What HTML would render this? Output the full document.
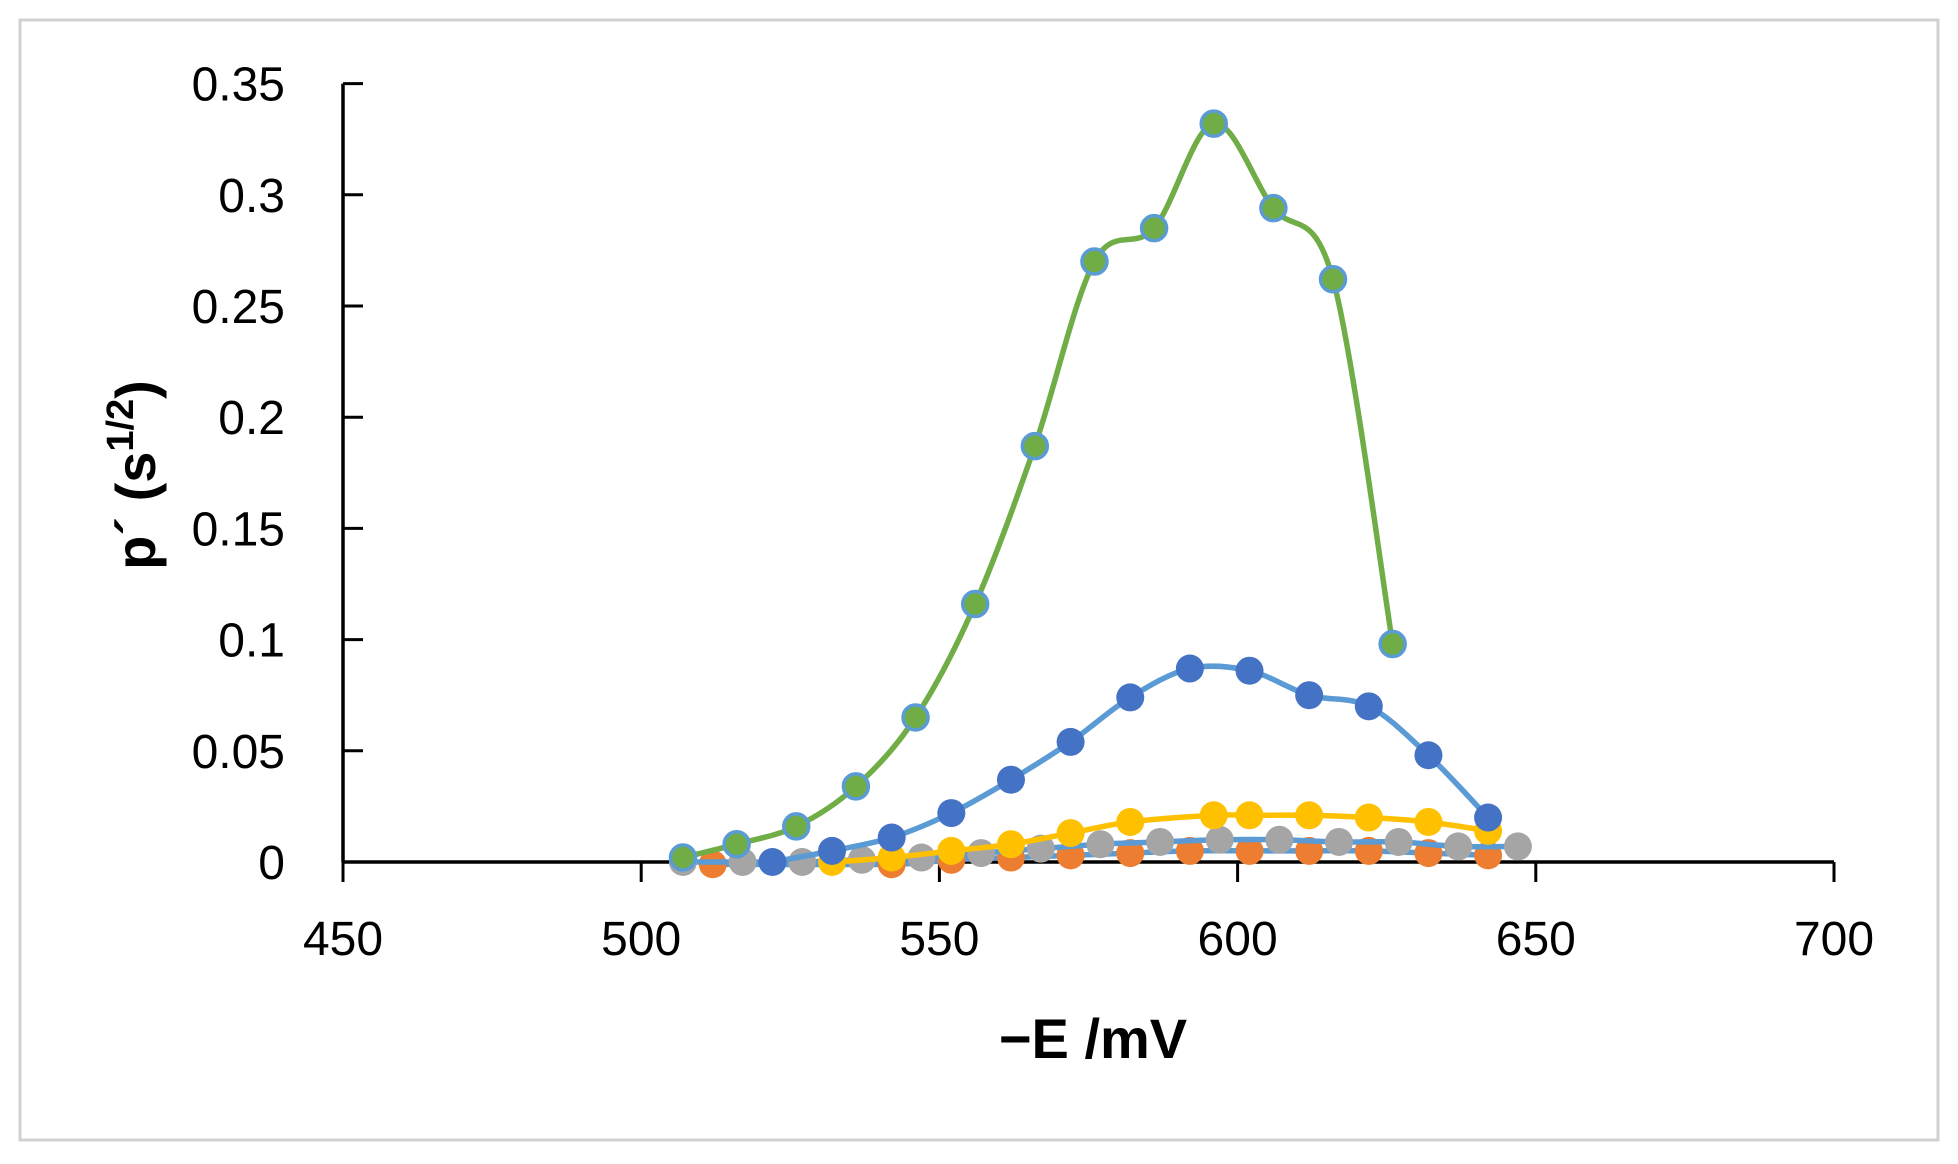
<!DOCTYPE html>
<html><head><meta charset="utf-8"><style>
body{margin:0;background:#fff;}
svg{display:block;font-family:"Liberation Sans",sans-serif;}
</style></head><body>
<svg id="s" width="1958" height="1164" viewBox="0 0 1958 1164" xmlns="http://www.w3.org/2000/svg">
<rect x="20" y="20" width="1918" height="1120" fill="#fff" stroke="#d0d0d0" stroke-width="3"/>
<g id="grid"></g>
<g id="series"></g>
<text x="1093" y="1058" font-size="56" font-weight="bold" text-anchor="middle">−E /mV</text>
<text transform="translate(155,475) rotate(-90)" font-size="56" font-weight="bold" text-anchor="middle">p´ (s<tspan dy="-22" font-size="38">1/2</tspan><tspan dy="22">)</tspan></text>
</svg>
<script>
var X=function(v){return 343+(v-450)*298.2/50;};
var Y=function(v){return 862-v*111.2/0.05;};
var ns="http://www.w3.org/2000/svg";
function el(p,t,a,txt){var e=document.createElementNS(ns,t);for(var k in a)e.setAttribute(k,a[k]);if(txt!=null)e.textContent=txt;p.appendChild(e);return e;}
var g=document.getElementById('grid');
el(g,'line',{x1:343,y1:Y(0.35),x2:343,y2:862,stroke:'#000','stroke-width':3.5});
el(g,'line',{x1:343,y1:862,x2:1834,y2:862,stroke:'#000','stroke-width':3.5});
for(var i=0;i<=7;i++){var v=i*0.05,y=Y(v);
 el(g,'line',{x1:343,y1:y,x2:363,y2:y,stroke:'#000','stroke-width':3});
 el(g,'text',{x:285,y:y+17,'font-size':48,'text-anchor':'end'},i==0?'0':String(+v.toFixed(2)));}
for(var i=0;i<=5;i++){var v=450+i*50,x=X(v);
 el(g,'line',{x1:x,y1:862,x2:x,y2:882,stroke:'#000','stroke-width':3});
 el(g,'text',{x:x,y:955,'font-size':48,'text-anchor':'middle'},String(v));}
function path(pts){var d='M'+X(pts[0][0])+','+Y(pts[0][1]);
 for(var i=0;i<pts.length-1;i++){var p0=pts[Math.max(i-1,0)],p1=pts[i],p2=pts[i+1],p3=pts[Math.min(i+2,pts.length-1)];
  var a=[X(p0[0]),Y(p0[1])],b=[X(p1[0]),Y(p1[1])],c=[X(p2[0]),Y(p2[1])],e=[X(p3[0]),Y(p3[1])],t=0.5/3*1.0;
  d+=' C'+(b[0]+(c[0]-a[0])*t)+','+(b[1]+(c[1]-a[1])*t)+' '+(c[0]-(e[0]-b[0])*t)+','+(c[1]-(e[1]-b[1])*t)+' '+c[0]+','+c[1];}
 return d;}
var S=document.getElementById('series');
function series(pts,line,fill,edge){el(S,'path',{d:path(pts),fill:'none',stroke:line,'stroke-width':5.5});
 pts.forEach(function(p){el(S,'circle',{cx:X(p[0]),cy:Y(p[1]),r:edge?12.5:14,fill:fill,stroke:edge||'none','stroke-width':edge?3.5:0});});}
series([[512,-0.001],[542,-0.001],[552,0.001],[562,0.002],[572,0.003],[582,0.004],[592,0.005],[602,0.005],[612,0.005],[622,0.005],[632,0.004],[642,0.003]],'#5B9BD5','#ED7D31');
series([[507,0],[517,0],[527,0],[537,0.001],[547,0.002],[557,0.004],[567,0.006],[577,0.008],[587,0.009],[597,0.01],[607,0.01],[617,0.009],[627,0.009],[637,0.007],[647,0.007]],'#5B9BD5','#A5A5A5');
series([[532,0],[542,0.002],[552,0.005],[562,0.008],[572,0.013],[582,0.018],[596,0.021],[602,0.021],[612,0.021],[622,0.02],[632,0.018],[642,0.014]],'#FFC000','#FFC000');
series([[522,0],[532,0.005],[542,0.011],[552,0.022],[562,0.037],[572,0.054],[582,0.074],[592,0.087],[602,0.086],[612,0.075],[622,0.07],[632,0.048],[642,0.02]],'#5B9BD5','#4472C4');
series([[507,0.002],[516,0.008],[526,0.016],[536,0.034],[546,0.065],[556,0.116],[566,0.187],[576,0.27],[586,0.285],[596,0.332],[606,0.294],[616,0.262],[626,0.098]],'#70AD47','#70AD47','#5B9BD5');
</script>
</body></html>
